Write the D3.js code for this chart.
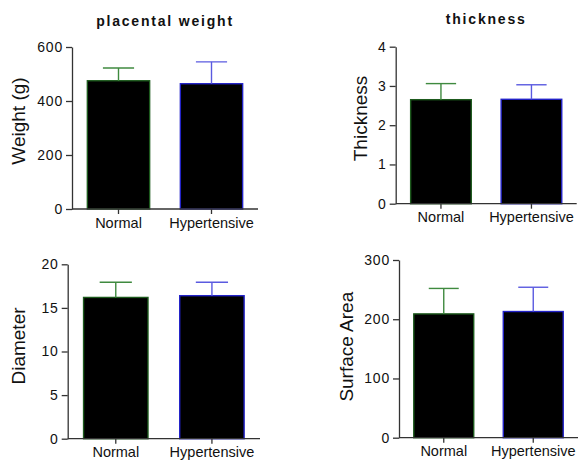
<!DOCTYPE html>
<html><head><meta charset="utf-8">
<script src="https://cdn.jsdelivr.net/npm/d3@7"></script>
<style>
body{margin:0;background:#fff;}
text{font-family:"Liberation Sans",Arial,sans-serif;fill:#111;}
</style></head>
<body>
<svg id="c" width="585" height="462"></svg>
<script>
const categories = ["Normal", "Hypertensive"];

const weightMean = [475, 464];
const weightSD = [47, 81];
const weightTicks = [0, 200, 400, 600];

const thicknessMean = [2.65, 2.66];
const thicknessSD = [0.41, 0.37];
const thicknessTicks = [0, 1, 2, 3, 4];

const diameterMean = [16.2, 16.4];
const diameterSD = [1.75, 1.55];
const diameterTicks = [0, 5, 10, 15, 20];

const areaMean = [209, 213];
const areaSD = [43, 41];
const areaTicks = [0, 100, 200, 300];

const strokeCols = ["#1d5a1d", "#2323c8"];
const errCols = ["#3f8a3f", "#5a5ae0"];

const svg = d3.select("#c");

const panels = [
  {title:"placental weight", ylabel:"Weight (g)", mean:weightMean, sd:weightSD, ticks:weightTicks,
   x0:72, x1:258, y0:209, y1:47, labY:121, labX:25, titleY:26},
  {title:"thickness", ylabel:"Thickness", mean:thicknessMean, sd:thicknessSD, ticks:thicknessTicks,
   x0:395.7, x1:576.7, y0:203.7, y1:46.7, labY:118.5, labX:367, titleY:24},
  {title:"", ylabel:"Diameter", mean:diameterMean, sd:diameterSD, ticks:diameterTicks,
   x0:67.7, x1:260, y0:438.7, y1:264.3, labY:346, labX:25},
  {title:"", ylabel:"Surface Area", mean:areaMean, sd:areaSD, ticks:areaTicks,
   x0:399, x1:578, y0:437.7, y1:260, labY:346.7, labX:353}
];

panels.forEach(p => {
  const g = svg.append("g");
  const x = d3.scaleBand().domain(categories).range([p.x0, p.x1]).paddingInner(0.33).paddingOuter(0.165);
  const y = d3.scaleLinear().domain([p.ticks[0], p.ticks[p.ticks.length-1]]).range([p.y0, p.y1]);

  // bars
  categories.forEach((c, i) => {
    g.append("rect")
      .attr("x", x(c)).attr("y", y(p.mean[i]))
      .attr("width", x.bandwidth()).attr("height", y(0) - y(p.mean[i]))
      .attr("fill", "#000").attr("stroke", strokeCols[i]).attr("stroke-width", 1.4);
    const cx = x(c) + x.bandwidth()/2;
    const top = y(p.mean[i] + p.sd[i]);
    const cap = x.bandwidth()/4;
    g.append("line").attr("x1", cx).attr("x2", cx).attr("y1", y(p.mean[i])).attr("y2", top)
      .attr("stroke", errCols[i]).attr("stroke-width", 1.4);
    g.append("line").attr("x1", cx - cap).attr("x2", cx + cap).attr("y1", top).attr("y2", top)
      .attr("stroke", errCols[i]).attr("stroke-width", 1.4);
  });

  // y axis
  const ya = g.append("g").attr("transform", `translate(${p.x0},0)`)
    .call(d3.axisLeft(y).tickValues(p.ticks).tickFormat(d3.format("d")).tickSize(6).tickPadding(3).tickSizeOuter(0));
  ya.select(".domain").attr("stroke", "#333").attr("stroke-width", 1.3);
  ya.selectAll(".tick line").attr("stroke", "#333").attr("stroke-width", 1.3);
  ya.selectAll(".tick text").attr("font-size", 14).attr("letter-spacing", "0.8px")
    .attr("font-family", "Liberation Sans, Arial, sans-serif").attr("fill", "#111");

  // x axis
  const xa = g.append("g").attr("transform", `translate(0,${p.y0})`)
    .call(d3.axisBottom(x).tickSize(5).tickPadding(4).tickSizeOuter(0));
  xa.select(".domain").attr("stroke", "#333").attr("stroke-width", 1.3)
    .attr("d", `M${p.x0},0H${p.x1}`);
  xa.selectAll(".tick line").attr("stroke", "#333").attr("stroke-width", 1.3);
  xa.selectAll(".tick text").attr("font-size", 14.5).attr("dy", null).attr("y", 18.8)
    .attr("font-family", "Liberation Sans, Arial, sans-serif").attr("fill", "#111");

  // y label
  g.append("text").attr("transform", `translate(${p.labX},${p.labY}) rotate(-90)`)
    .attr("text-anchor", "middle").attr("font-size", 19).text(p.ylabel);

  // title
  if (p.title) {
    g.append("text").attr("x", (p.x0 + p.x1)/2).attr("y", p.titleY)
      .attr("text-anchor", "middle").attr("font-size", 14).attr("font-weight", "bold")
      .attr("letter-spacing", "1.8px").text(p.title);
  }
});
</script>
</body></html>
